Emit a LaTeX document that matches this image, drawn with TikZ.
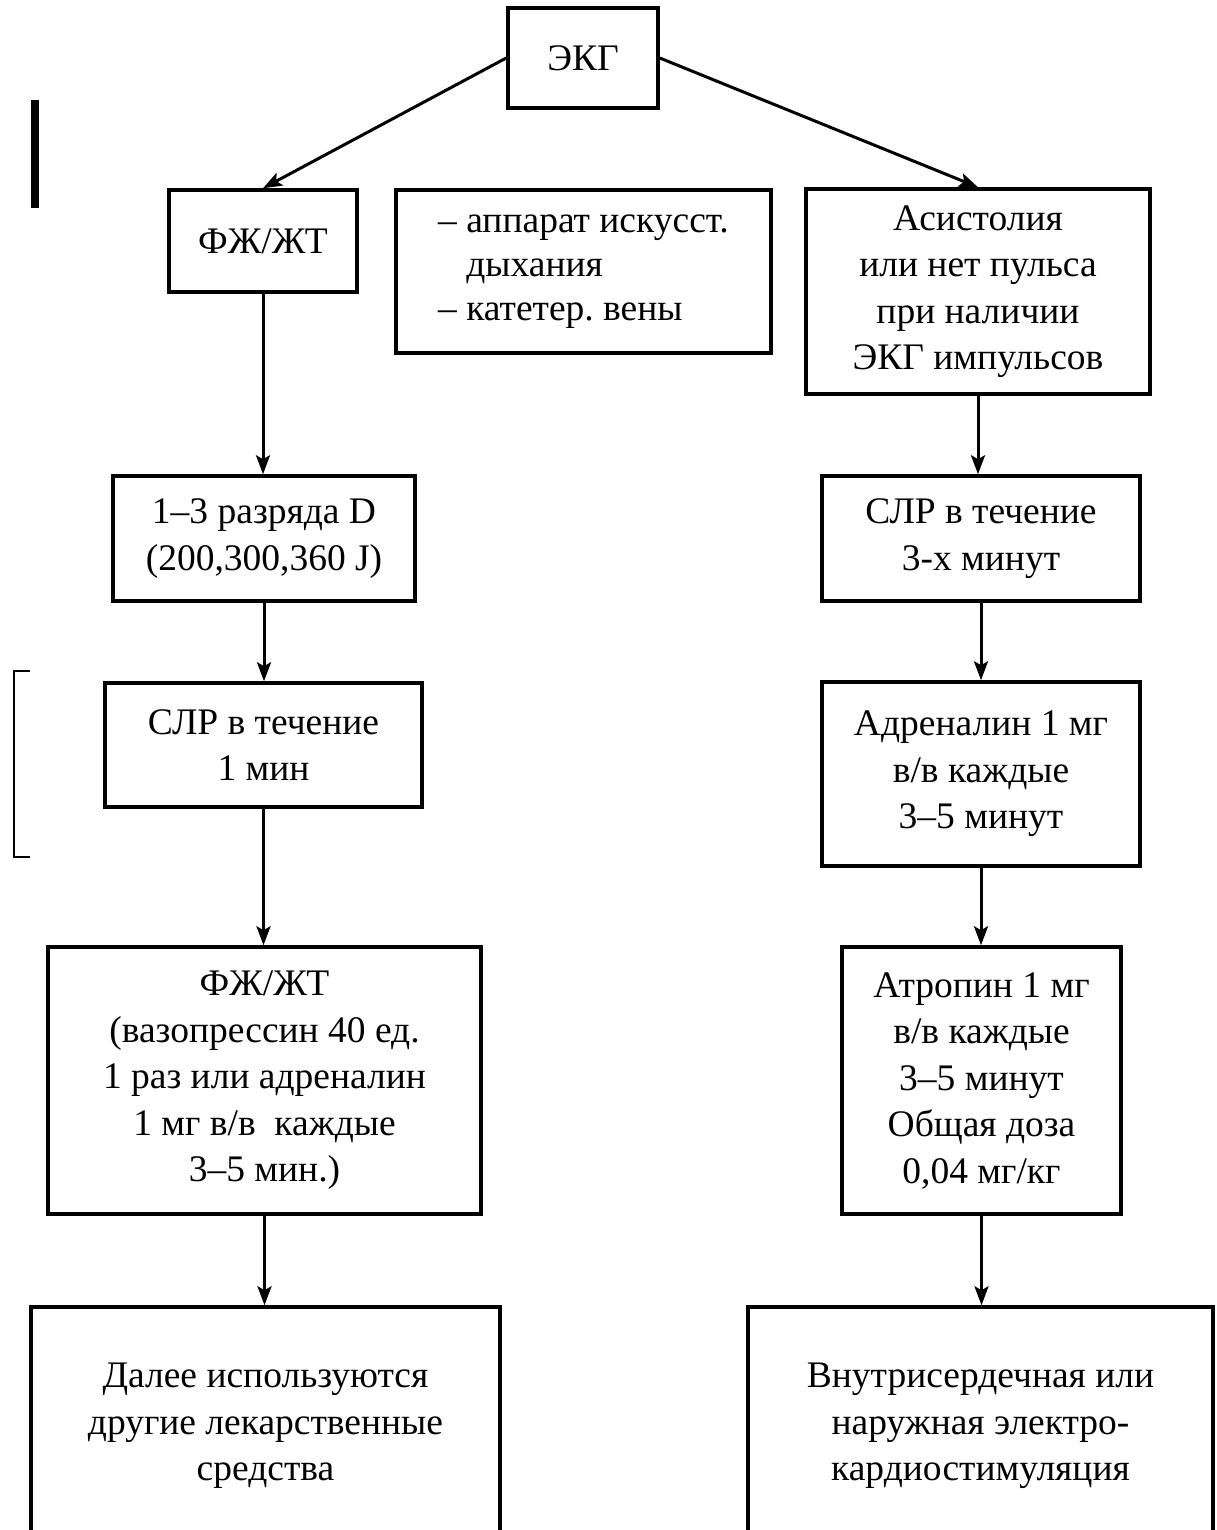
\documentclass[tikz,border=0pt]{standalone}
\usepackage{fontspec}
\setmainfont{Liberation Serif}
\usetikzlibrary{arrows.meta}
\frenchspacing
\begin{document}
\begin{tikzpicture}[x=1pt,y=-1pt,
  box/.style={draw,line width=3.5pt,inner sep=0pt,align=center,
    font=\fontsize{37.5}{46.5}\selectfont},
  arr/.style={line width=3pt,-{Stealth[length=19pt,width=14pt,inset=4pt]}}]
\useasboundingbox (0,0) rectangle (1216,1530);
\fill[white] (0,0) rectangle (1216,1530);

\node[box,minimum width=150pt,minimum height=100pt] (ekg) at (583,58) {ЭКГ};
\node[box,minimum width=188pt,minimum height=102pt] (fzh1) at (263,241) {ФЖ/ЖТ};
\node[box,align=left,minimum width=375pt,minimum height=163pt,
  font=\fontsize{37.5}{44}\selectfont] (mid) at (583.5,271.5)
  {– аппарат искусст.\\\phantom{– }дыхания\\– катетер. вены};
\node[box,minimum width=344pt,minimum height=205pt] (asys) at (978,291.5)
  {Асистолия\\или нет пульса\\при наличии\\ЭКГ импульсов};

\node[box,minimum width=302pt,minimum height=125pt] (raz) at (264,538.5)
  {1–3 разряда D\\(200,300,360 J)};
\node[box,minimum width=317pt,minimum height=124pt] (slr1) at (263.5,745)
  {СЛР в течение\\1 мин};
\node[box,minimum width=433pt,minimum height=267pt] (fzh2) at (264.5,1080.5)
  {ФЖ/ЖТ\\(вазопрессин 40 ед.\\1 раз или адреналин\\1 мг в/в \ каждые\\3–5 мин.)};
\node[box,minimum width=469pt,minimum height=238pt] (dalee) at (265.5,1426)
  {Далее используются\\другие лекарственные\\средства};

\node[box,minimum width=318pt,minimum height=125pt] (slr2) at (981,538.5)
  {СЛР в течение\\3-х минут};
\node[box,minimum width=318pt,minimum height=184pt] (adr) at (981,774)
  {Адреналин 1 мг\\в/в каждые\\3–5 минут};
\node[box,minimum width=279pt,minimum height=267pt] (atr) at (981.5,1080.5)
  {Атропин 1 мг\\в/в каждые\\3–5 минут\\Общая доза\\0,04 мг/кг};
\node[box,minimum width=465pt,minimum height=238pt] (vnutr) at (980.5,1426)
  {Внутрисердечная или\\наружная электро-\\кардиостимуляция};

\draw[arr] (ekg.west) -- (fzh1.north);
\draw[arr] (ekg.east) -- (asys.north);
\draw[arr] (fzh1.south) -- (fzh1.south |- raz.north);
\draw[arr] (raz.south) -- (raz.south |- slr1.north);
\draw[arr] (slr1.south) -- (slr1.south |- fzh2.north);
\draw[arr] (fzh2.south) -- (fzh2.south |- dalee.north);
\draw[arr] (asys.south) -- (asys.south |- slr2.north);
\draw[arr] (slr2.south) -- (slr2.south |- adr.north);
\draw[arr] (adr.south) -- (adr.south |- atr.north);
\draw[arr] (atr.south) -- (atr.south |- vnutr.north);

% scan marks at the left edge
\fill (31,100) rectangle (39,208);
\draw[line width=2pt] (30,671) -- (14,671) -- (14,857) -- (30,857);
\end{tikzpicture}
\end{document}
